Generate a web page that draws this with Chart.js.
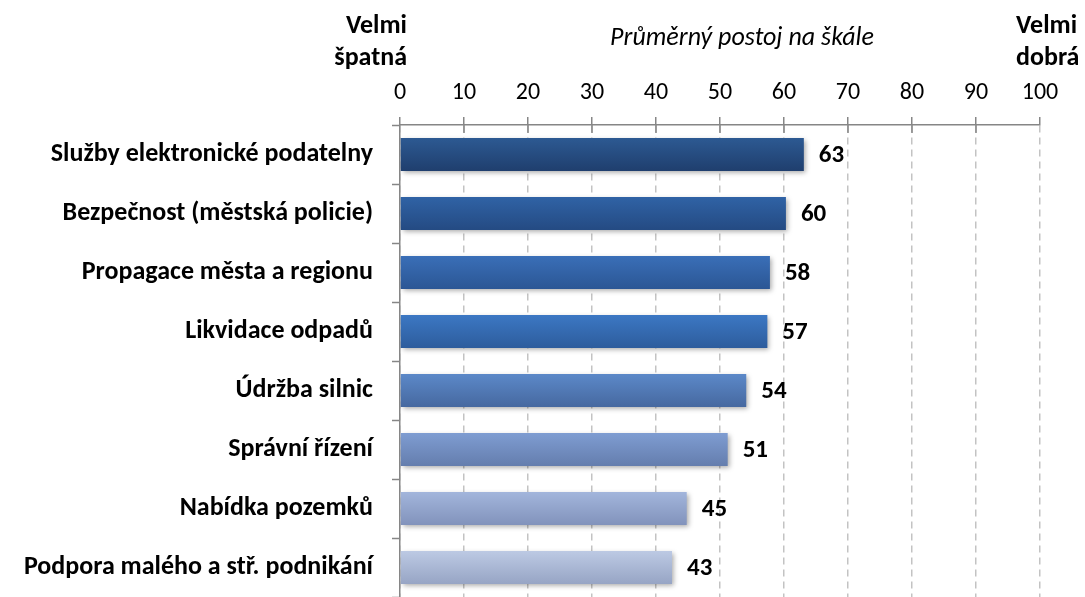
<!DOCTYPE html>
<html><head><meta charset="utf-8">
<script src="https://cdn.jsdelivr.net/npm/chart.js@4/dist/chart.umd.min.js"></script>
<style>html,body{margin:0;padding:0;background:#fff}#wrap{width:1085px;height:597px;position:relative;overflow:hidden}</style>
</head><body><div id="wrap"><canvas id="c"></canvas></div>
<script>
const categories = [
  'Služby elektronické podatelny',
  'Bezpečnost (městská policie)',
  'Propagace města a regionu',
  'Likvidace odpadů',
  'Údržba silnic',
  'Správní řízení',
  'Nabídka pozemků',
  'Podpora malého a stř. podnikání'
];
const values = [63.1, 60.3, 57.8, 57.4, 54.1, 51.2, 44.8, 42.5];
const valueLabels = ['63', '60', '58', '57', '54', '51', '45', '43'];
const xTickValues = [0, 10, 20, 30, 40, 50, 60, 70, 80, 90, 100];
const titleLeft = ['Velmi', 'špatná'];
const titleRight = ['Velmi', 'dobrá'];
const axisTitle = 'Průměrný postoj na škále';
const barTopColors = ['#2d5a93', '#3063a6', '#3a6fb8', '#3c78c4', '#5c89c9', '#7f9dd2', '#a3b6dc', '#bdcae4'];
const barBottomColors = ['#1f3e6d', '#244a82', '#2b5694', '#2d5c9c', '#46689f', '#647dad', '#8192bb', '#96a4c4'];

const FONT = "Carlito, Calibri, Lato, 'Liberation Sans', sans-serif";
const AXIS_GRAY = '#868686';

const shadowPlugin = {
  id: 'shadow',
  beforeDatasetDraw(chart) {
    const ctx = chart.ctx;
    ctx.save();
    ctx.shadowColor = 'rgba(0,0,0,0.35)';
    ctx.shadowBlur = 5;
    ctx.shadowOffsetX = 2;
    ctx.shadowOffsetY = 2;
  },
  afterDatasetDraw(chart) { chart.ctx.restore(); }
};

const labelsPlugin = {
  id: 'valueLabels',
  afterDatasetsDraw(chart) {
    const ctx = chart.ctx;
    const meta = chart.getDatasetMeta(0);
    ctx.save();
    ctx.font = 'bold 25px ' + FONT;
    ctx.fillStyle = '#000';
    ctx.textAlign = 'left';
    ctx.textBaseline = 'middle';
    meta.data.forEach((el, i) => {
      ctx.fillText(valueLabels[i], el.x + 15, el.y + 1);
    });
    ctx.restore();
  }
};

const extrasPlugin = {
  id: 'extras',
  afterDraw(chart) {
    const ctx = chart.ctx;
    const xs = chart.scales.x;
    const top = chart.chartArea.top;
    ctx.save();
    ctx.strokeStyle = AXIS_GRAY;
    ctx.lineWidth = 1.5;
    xTickValues.forEach(v => {
      if (v === 0 || v === 100) return;
      const x = xs.getPixelForValue(v);
      ctx.beginPath(); ctx.moveTo(x, top); ctx.lineTo(x, top + 8); ctx.stroke();
    });
    ctx.fillStyle = '#000';
    ctx.textBaseline = 'middle';
    ctx.font = 'bold 26px ' + FONT;
    ctx.textAlign = 'right';
    ctx.fillText(titleLeft[0], 407, 26);
    ctx.fillText(titleLeft[1], 407, 58);
    ctx.textAlign = 'left';
    ctx.fillText(titleRight[0], 1016, 26);
    ctx.fillText(titleRight[1], 1016, 58);
    ctx.font = 'italic 26px ' + FONT;
    ctx.textAlign = 'center';
    ctx.fillText(axisTitle, 742, 38);
    ctx.restore();
  }
};

new Chart(document.getElementById('c'), {
  type: 'bar',
  data: {
    labels: categories,
    datasets: [{
      data: values,
      backgroundColor(c) {
        const chart = c.chart;
        const i = c.dataIndex;
        if (!chart.chartArea || !chart.scales.y) return barTopColors[i];
        const y = chart.scales.y.getPixelForValue(i);
        const g = chart.ctx.createLinearGradient(0, y - 17, 0, y + 17);
        g.addColorStop(0, barTopColors[i]);
        g.addColorStop(1, barBottomColors[i]);
        return g;
      },
      borderWidth: 0,
      barPercentage: 0.56,
      categoryPercentage: 1
    }]
  },
  options: {
    indexAxis: 'y',
    responsive: true,
    maintainAspectRatio: false,
    devicePixelRatio: 1,
    animation: false,
    layout: { autoPadding: false, padding: { left: 0, right: 45, top: 0, bottom: 0 } },
    plugins: { legend: { display: false }, tooltip: { enabled: false }, title: { display: false } },
    scales: {
      x: {
        position: 'top',
        min: 0, max: 100,
        afterBuildTicks(scale) { scale.ticks = xTickValues.map(v => ({ value: v })); },
        afterFit(scale) {
          scale.height = 125;
          scale.paddingTop = 0; scale.paddingBottom = 0; scale.paddingLeft = 0; scale.paddingRight = 0;
        },
        ticks: { font: { family: FONT, size: 24 }, color: '#000', padding: 10, maxRotation: 0 },
        grid: { color: '#c3c3c3', lineWidth: 1.5, tickLength: 8, tickColor: AXIS_GRAY, tickWidth: 1.5 },
        border: { display: true, color: AXIS_GRAY, width: 1.5, dash: [7, 5] }
      },
      y: {
        afterFit(scale) {
          scale.width = 400;
          scale.paddingTop = 0; scale.paddingBottom = 0; scale.paddingLeft = 0; scale.paddingRight = 0;
        },
        ticks: { font: { family: FONT, size: 26, weight: 'bold' }, color: '#000', padding: 19 },
        grid: { drawOnChartArea: false, tickLength: 8, tickColor: AXIS_GRAY, tickWidth: 1.5, offset: true },
        border: { display: true, color: AXIS_GRAY, width: 1.5 }
      }
    }
  },
  plugins: [shadowPlugin, labelsPlugin, extrasPlugin]
});
</script>
</body></html>
